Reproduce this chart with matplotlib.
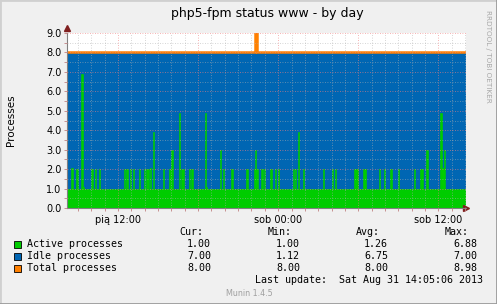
import numpy as np
import matplotlib
matplotlib.use('Agg')
import matplotlib.pyplot as plt
from matplotlib.lines import Line2D

# hours since Fri 00:00, 5 minute samples
start_hour = 8 + 10 / 60.0
end_hour = 38 + 5 / 60.0

# active processes spikes (baseline is 1.0)
spike_hours = [8.50, 8.55, 8.87, 8.95, 9.32, 9.40, 10.00, 10.30, 10.60, 12.47, 12.62, 12.70,
               12.92, 13.12, 13.65, 13.97, 14.12, 14.20, 14.30, 14.42, 14.47, 14.65, 15.40,
               15.84, 15.97, 16.05, 16.60, 16.75, 16.90, 17.35, 17.57, 18.55, 18.63, 19.67,
               19.90, 20.50, 21.60, 21.70, 22.20, 22.30, 22.39, 22.45, 22.82, 22.97, 23.42,
               23.80, 24.00, 25.15, 25.30, 25.52, 25.90, 27.40, 28.00, 28.30, 29.72, 29.80,
               29.87, 29.97, 30.40, 30.47, 30.52, 31.60, 31.97, 32.42, 33.02, 34.22, 34.67,
               34.82, 35.10, 35.22, 36.22, 36.27, 36.33, 36.40, 36.47]
spike_values = [4.9, 2.05, 2.0, 2.0, 6.88, 1.1, 2.0, 2.0, 2.0, 2.0, 2.0, 2.0,
                2.0, 2.0, 2.0, 2.0, 2.0, 2.0, 2.0, 4.9, 2.05, 3.9, 2.0,
                2.0, 2.0, 3.0, 4.9, 2.0, 2.0, 2.0, 2.0, 4.9, 1.1, 3.0,
                2.0, 2.0, 2.0, 2.0, 2.0, 3.0, 2.0, 2.0, 2.0, 2.0, 2.0,
                2.0, 2.0, 2.0, 2.0, 3.9, 2.0, 2.0, 2.0, 2.0, 2.0, 2.0,
                2.0, 2.0, 2.0, 2.0, 2.0, 2.0, 2.0, 2.0, 2.0, 2.0, 2.0,
                2.0, 3.0, 3.0, 4.9, 2.05, 2.05, 2.05, 3.0]
active_base = 1.0
total_base = 8.0
total_spike_hours = [22.30, 22.38]
total_spike_values = [8.98, 8.98]

labels = ['Active processes', 'Idle processes', 'Total processes']
colors = ['#00CC00', '#0066B3', '#FF8000']
cur_vals = ['1.00', '7.00', '8.00']
min_vals = ['1.00', '1.12', '8.00']
avg_vals = ['1.26', '6.75', '8.00']
max_vals = ['6.88', '7.00', '8.98']

edges = np.arange(start_hour, end_hour + 1e-6, 5 / 60.0)
n = len(edges) - 1
active = np.full(n, active_base)
for h, v in zip(spike_hours, spike_values):
    active[int((h - start_hour) * 12)] = v
idle = total_base - active
total = np.full(n, total_base)
for h, v in zip(total_spike_hours, total_spike_values):
    total[int((h - start_hour) * 12)] = v

W, H = 497, 304
fig = plt.figure(figsize=(W / 100, H / 100), dpi=100)
fig.patch.set_facecolor('#F0F0F0')


def fx(px):
    return px / W


def fy(py):
    return 1 - py / H


ax = fig.add_axes([fx(67), fy(208), fx(466) - fx(67), fy(33) - fy(208)])
ax.set_facecolor('white')
# idle stacked on active: draw the stack top first, active over it
ax.stairs(active + idle, edges, baseline=0, fill=True, color=colors[1], lw=0, antialiased=False)
ax.stairs(active, edges, baseline=0, fill=True, facecolor=colors[0], edgecolor=colors[0],
          lw=0.45)
ax.stairs(total, edges, baseline=None, color=colors[2], lw=1.8)

ax.set_xlim(start_hour, end_hour)
ax.set_ylim(0, 9.0)
ax.set_xticks([12, 18, 24, 30, 36])
ax.set_xticklabels(['pią 12:00', '', 'sob 00:00', '', 'sob 12:00'], fontsize=7)
ax.set_xticks(np.arange(9, 39, 1), minor=True)
ax.set_yticks(np.arange(0, 9.5, 1))
ax.set_yticklabels(['%.1f' % v for v in np.arange(0, 9.5, 1)], fontsize=7)
ax.set_yticks(np.arange(0.5, 9, 1), minor=True)
ax.tick_params(which='both', length=2, width=0.6, color='#C08080', pad=2)
ax.tick_params(axis='x', which='major', pad=3)
ax.set_axisbelow(False)
ax.grid(which='major', color='#F08080', ls=(0, (1, 2)), lw=0.6, alpha=0.8)
ax.grid(which='minor', color='#B0B0B0', ls=(0, (1, 2)), lw=0.6, alpha=0.7)
for s in ['top', 'right']:
    ax.spines[s].set_visible(False)
ax.spines['left'].set_color('#808080')
ax.spines['bottom'].set_color('#808080')
ax.spines['left'].set_linewidth(0.8)
ax.spines['bottom'].set_linewidth(0.8)
ax.plot([1], [0], '>', color='#802020', ms=4, transform=ax.transAxes, clip_on=False)
ax.plot([0], [1.03], '^', color='#802020', ms=4, transform=ax.transAxes, clip_on=False)

fig.text(fx(267), fy(14), 'php5-fpm status www - by day', ha='center', va='center', fontsize=9)
fig.text(fx(11), fy(120), 'Processes', rotation=90, ha='center', va='center', fontsize=7.5)
fig.text(fx(488), fy(56), 'RRDTOOL / TOBI OETIKER', rotation=-90, ha='center', va='center',
         fontsize=5.2, color='#A8A8A8')

mono = 'DejaVu Sans Mono'
fs = 7.2
col_right = [211, 300, 388, 477]
for x, t in zip(col_right, ['Cur:', 'Min:', 'Avg:', 'Max:']):
    fig.text(fx(x - 8), fy(232), t, ha='right', va='center', family=mono, fontsize=fs)
rows_y = [244, 256, 268]
for i, lab in enumerate(labels):
    y = rows_y[i]
    fig.patches.append(plt.Rectangle((fx(13.5), fy(y + 3.5)), fx(7), fy(0) - fy(7),
                                     transform=fig.transFigure, facecolor=colors[i],
                                     edgecolor='black', lw=0.6))
    fig.text(fx(27), fy(y), lab, ha='left', va='center', family=mono, fontsize=fs)
    for x, v in zip(col_right, [cur_vals[i], min_vals[i], avg_vals[i], max_vals[i]]):
        fig.text(fx(x), fy(y), v, ha='right', va='center', family=mono, fontsize=fs)
fig.text(fx(483), fy(280), 'Last update:  Sat Aug 31 14:05:06 2013', ha='right', va='center',
         family=mono, fontsize=fs)
fig.text(fx(249), fy(293), 'Munin 1.4.5', ha='center', va='center',
         fontsize=5.8, color='#A0A0A0')

# outer frame
fig.add_artist(Line2D([0, 0], [0, 1], transform=fig.transFigure, color='#D0D0D0', lw=2))
fig.add_artist(Line2D([0, 1], [1, 1], transform=fig.transFigure, color='#D0D0D0', lw=2))
fig.add_artist(Line2D([1, 1], [0, 1], transform=fig.transFigure, color='#9A9A9A', lw=2))
fig.add_artist(Line2D([0, 1], [0, 0], transform=fig.transFigure, color='#9A9A9A', lw=2))

fig.savefig('out.png', dpi=100, facecolor=fig.get_facecolor())
